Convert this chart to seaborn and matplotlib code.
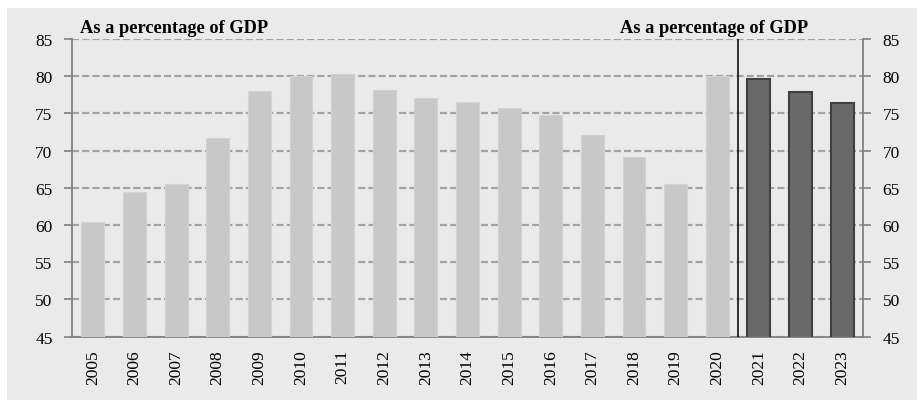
import matplotlib
matplotlib.use("Agg")
import matplotlib.pyplot as plt
from matplotlib.patches import Rectangle
import pandas as pd
import seaborn as sns

# Government debt, as a percentage of GDP
years = [str(y) for y in range(2005, 2024)]
debt_ratio = [60.4, 64.4, 65.5, 71.7, 78.0, 80.0, 80.3, 78.1, 77.1, 76.5,
              75.7, 74.8, 72.1, 69.1, 65.5, 80.0, 79.6, 77.9, 76.4]
period = ["Actual"] * 16 + ["Projection"] * 3
y_ticks = [45, 50, 55, 60, 65, 70, 75, 80, 85]
panel_title = "As a percentage of GDP"

sns.set_theme(style="white")
plt.rcParams["font.family"] = ["Liberation Serif", "DejaVu Serif"]

W, H = 917, 402
fig = plt.figure(figsize=(W / 100, H / 100), dpi=100, facecolor="white")
bg = "#EAEAEA"
fig.patches.append(Rectangle((7 / W, 1 / H), 1 - 7 / W, 392 / H,
                             transform=fig.transFigure, facecolor=bg,
                             edgecolor="none", zorder=-10))

ax = fig.add_axes([72 / W, 1 - 337.7 / H, 791 / W, 297.7 / H])
ax.set_facecolor(bg)

df = pd.DataFrame({"year": years, "value": debt_ratio, "period": period})
palette = {"Actual": "#C8C8C8", "Projection": "#696969"}
sns.barplot(data=df, x="year", y="value", hue="period", palette=palette,
            dodge=False, width=0.55, saturation=1, legend=False, ax=ax,
            zorder=3)

for bar in ax.patches:
    fc = bar.get_facecolor()
    if fc[0] < 0.6:
        bar.set_edgecolor("#404040")
        bar.set_linewidth(1.5)
    else:
        bar.set_edgecolor("#D2D2D2")
        bar.set_linewidth(0.8)

ax.set_ylim(45, 85)
ax.set_xlim(-0.5, len(years) - 0.5)
ax.set_yticks(y_ticks)
ax.set_yticklabels([str(t) for t in y_ticks])
ax.set_axisbelow(True)
ax.yaxis.grid(True, linestyle=(0, (3.2, 1.4)), color="#A3A3A3", linewidth=1.6,
              zorder=0)
ax.xaxis.grid(False)

# separator between outturn and projection years
ax.axvline(15.5, color="black", linewidth=1.1, zorder=4)

ax.set_xlabel("")
ax.set_ylabel("")
ax.set_xticks(range(len(years)))
ax.set_xticklabels(years, rotation=90, fontsize=12.5)
ax.set_xticks([i - 0.5 for i in range(len(years) + 1)], minor=True)
ax.tick_params(axis="x", which="major", length=0, pad=9, colors="black")
ax.tick_params(axis="x", which="minor", length=6, width=1.2, color="#808080",
               direction="out")
ax.tick_params(axis="y", which="major", left=True, right=True,
               labelleft=True, labelright=True, length=6, width=1.2,
               color="#808080", labelsize=12.5, labelcolor="black", pad=8,
               direction="out")

for side in ["left", "right", "bottom"]:
    ax.spines[side].set_color("#808080")
    ax.spines[side].set_linewidth(1.3)
ax.spines["top"].set_visible(False)

ax.text(0.010, 1.0235, panel_title, transform=ax.transAxes, ha="left",
        va="baseline", fontsize=13.2, fontweight="bold", color="black")
ax.text(0.693, 1.0235, panel_title, transform=ax.transAxes, ha="left",
        va="baseline", fontsize=13.2, fontweight="bold", color="black")

fig.savefig("out.png", dpi=100, facecolor="white")
